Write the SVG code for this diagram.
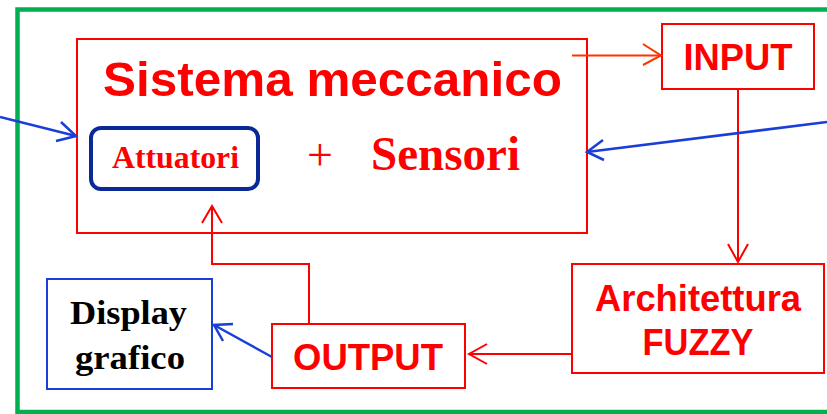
<svg xmlns="http://www.w3.org/2000/svg" width="827" height="414" viewBox="0 0 827 414">
<style>
.box{fill:#fff;stroke:#ff0000;stroke-width:2}
.lbl{font-family:"Liberation Sans",Arial,sans-serif;font-weight:bold;fill:#ff0000}
.ser{font-family:"Liberation Serif","Times New Roman",serif;font-weight:bold}
.red{fill:none;stroke:#ff0000;stroke-width:2}
.blue{fill:none;stroke:#1a3fd6;stroke-width:2.5}
</style>
<rect x="0" y="0" width="827" height="414" fill="#fff"/>
<rect x="17.5" y="9.5" width="830" height="402.5" fill="none" stroke="#00b050" stroke-width="4.5"/>
<g id="sistema">
<rect class="box" x="77" y="39" width="510" height="194"/>
<text class="lbl" x="103" y="96" font-size="49" textLength="459" lengthAdjust="spacingAndGlyphs">Sistema meccanico</text>
<text class="ser" x="320" y="170" font-size="46" font-weight="normal" fill="#ff0000" text-anchor="middle" style="font-weight:normal">+</text>
<text class="ser" x="371" y="170" font-size="48" fill="#ff0000" textLength="149" lengthAdjust="spacingAndGlyphs">Sensori</text>
</g>
<g id="attuatori">
<rect x="91" y="128" width="167" height="61" rx="10" fill="none" stroke="#0a2896" stroke-width="4"/>
<text class="ser" x="175.5" y="168" font-size="32" fill="#ff0000" text-anchor="middle" textLength="127" lengthAdjust="spacingAndGlyphs">Attuatori</text>
</g>
<g id="input">
<rect class="box" x="662" y="24" width="152" height="65"/>
<text class="lbl" x="738" y="70" font-size="37" text-anchor="middle" textLength="109" lengthAdjust="spacingAndGlyphs">INPUT</text>
</g>
<g id="fuzzy">
<rect class="box" x="572" y="264" width="252" height="109"/>
<text class="lbl" x="698" y="311" font-size="36" text-anchor="middle" textLength="206" lengthAdjust="spacingAndGlyphs">Architettura</text>
<text class="lbl" x="698" y="355" font-size="36" text-anchor="middle" textLength="111" lengthAdjust="spacingAndGlyphs">FUZZY</text>
</g>
<g id="output">
<rect class="box" x="272" y="324" width="193" height="64"/>
<text class="lbl" x="368" y="370" font-size="36" text-anchor="middle" textLength="150" lengthAdjust="spacingAndGlyphs">OUTPUT</text>
</g>
<g id="display">
<rect x="47" y="279" width="165" height="110" fill="#fff" stroke="#1a3fd6" stroke-width="2"/>
<text class="ser" x="128.5" y="324" font-size="33" fill="#000" text-anchor="middle" textLength="117" lengthAdjust="spacingAndGlyphs">Display</text>
<text class="ser" x="130" y="369" font-size="33" fill="#000" text-anchor="middle" textLength="110" lengthAdjust="spacingAndGlyphs">grafico</text>
</g>
<g id="connectors">
<path d="M572 55.5 H661" fill="none" stroke="#ff3300" stroke-width="2"/>
<path d="M643 44 L661 55.5 L643 65" fill="none" stroke="#ff3300" stroke-width="2"/>
<path class="red" d="M738 89 V262"/>
<path class="red" d="M728 244 L738 262 L748 244"/>
<path class="red" d="M572 354 H469"/>
<path class="red" d="M487 344 L469 354 L487 364"/>
<path class="red" d="M309 324 V264 H212 V206"/>
<path class="red" d="M202 223 L212 206 L222 223"/>
<path class="blue" d="M0 117 L76 136"/>
<path class="blue" d="M61 122 L76 136 L56 141"/>
<path class="blue" d="M827 122 L587 152"/>
<path class="blue" d="M603 140 L587 152 L604 160"/>
<path class="blue" d="M272 357 L214 325"/>
<path class="blue" d="M233 324 L214 325 L223 341"/>
</g>
</svg>
